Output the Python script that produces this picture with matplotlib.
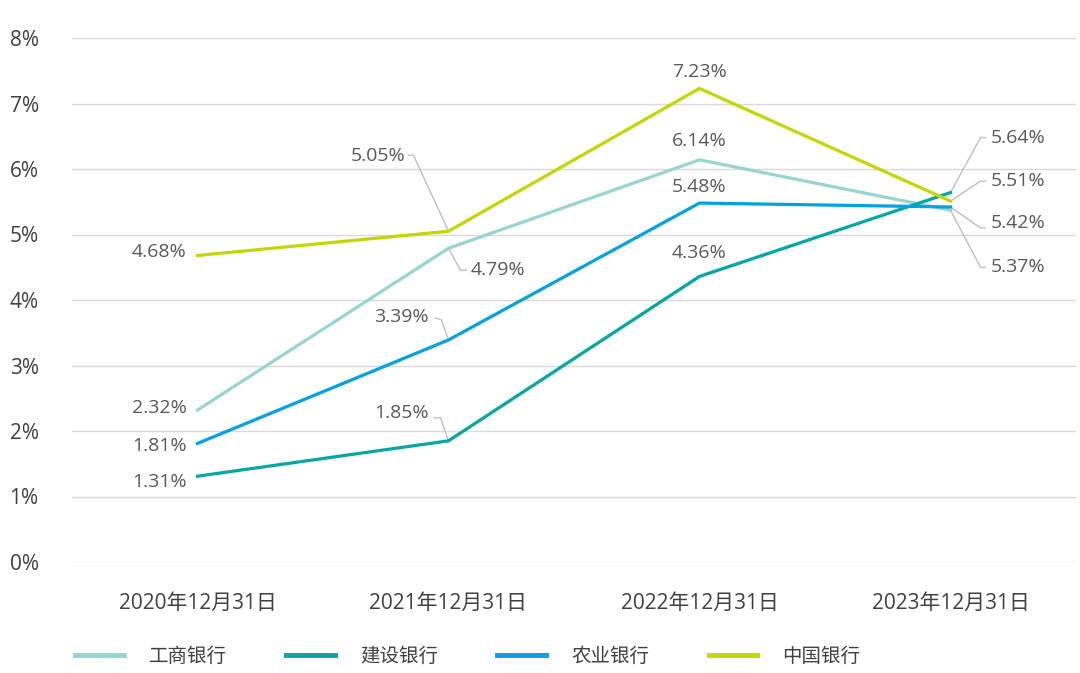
"""
四大行指标走势折线图 (2020-2023)
"""
import matplotlib

matplotlib.use("Agg")
import matplotlib.pyplot as plt
import matplotlib.transforms as mtransforms

plt.rcParams["font.family"] = ["Open Sans", "Noto Sans CJK SC", "DejaVu Sans"]

dates = ["2020年12月31日", "2021年12月31日", "2022年12月31日", "2023年12月31日"]
banks = ["工商银行", "建设银行", "农业银行", "中国银行"]
icbc = [2.32, 4.79, 6.14, 5.37]
ccb = [1.31, 1.85, 4.36, 5.64]
abc = [1.81, 3.39, 5.48, 5.42]
boc = [4.68, 5.05, 7.23, 5.51]
y_ticks = [0, 1, 2, 3, 4, 5, 6, 7, 8]

colors = ["#97d5cf", "#00a8a0", "#00a2e3", "#c4d600"]

# label layout per bank and year, in pixels relative to the point:
# (text dx, text dy, ha, leader vertices or None)
PX = 0.72
layout = [
    [  # 工商银行
        (-11, 2, "right", None),
        (22, -22, "left", [(0, 0), (12, -22), (18, -22)]),
        (0, 19, "center", None),
        (40, -57, "left", [(0, 0), (30, -57), (35, -57)]),
    ],
    [  # 建设银行
        (-11, -6, "right", None),
        (-20, 28, "right", [(-14, 23), (-8, 23), (0, 0)]),
        (0, 23, "center", None),
        (40, 55, "left", [(0, 0), (30, 55), (35, 55)]),
    ],
    [  # 农业银行
        (-11, -3, "right", None),
        (-20, 23, "right", [(-13, 22), (-7, 20), (0, 0)]),
        (0, 16, "center", None),
        (40, -16, "left", [(0, 0), (30, -21), (35, -21)]),
    ],
    [  # 中国银行
        (-11, 3, "right", None),
        (-43, 75, "right", [(-40, 76), (-35, 76), (0, 0)]),
        (0, 16, "center", None),
        (40, 20, "left", [(0, 0), (30, 20), (35, 20)]),
    ],
]

fig = plt.figure(figsize=(10.8, 6.73), dpi=100)
ax = fig.add_axes([72 / 1080, 1 - 562 / 673, (1076 - 72) / 1080, 524 / 673])

x = list(range(len(dates)))
series = [icbc, ccb, abc, boc]
for vals, color, name in zip(series, colors, banks):
    ax.plot(x, vals, color=color, linewidth=2.3, label=name, clip_on=False, zorder=3)

for vals, lays in zip(series, layout):
    for xi, v, (tdx, tdy, ha, leader) in zip(x, vals, lays):
        ax.annotate(
            f"{v:.2f}%",
            xy=(xi, v),
            xytext=(tdx * PX, tdy * PX),
            textcoords="offset points",
            ha=ha,
            va="center",
            fontsize=14,
            color="#595959",
        )
        if leader:
            trans = fig.dpi_scale_trans + mtransforms.ScaledTranslation(xi, v, ax.transData)
            ax.plot(
                [p[0] / 100 for p in leader],
                [p[1] / 100 for p in leader],
                color="#bfbfbf",
                linewidth=1,
                transform=trans,
                clip_on=False,
                zorder=2,
            )

ax.set_xlim(-0.5, 3.5)
ax.set_ylim(0, 8)
ax.set_xticks(x)
ax.set_xticklabels(dates)
ax.set_yticks(y_ticks)
ax.set_yticklabels([f"{t}%" for t in y_ticks])
ax.tick_params(axis="both", length=0, labelsize=15, colors="#404040")
ax.tick_params(axis="x", pad=22)
ax.tick_params(axis="y", pad=24)
ax.grid(axis="y", color="#d9d9d9", linewidth=1)
ax.set_axisbelow(True)
for spine in ax.spines.values():
    spine.set_visible(False)

handles, labels = ax.get_legend_handles_labels()
leg = fig.legend(
    handles,
    labels,
    loc="center left",
    bbox_to_anchor=(75 / 1080, 16 / 673),
    ncol=4,
    frameon=False,
    fontsize=14,
    handlelength=2.5,
    handletextpad=1.3,
    columnspacing=3.05,
    borderpad=0,
    borderaxespad=0,
)
for line in leg.get_lines():
    line.set_linewidth(3.5)
for text in leg.get_texts():
    text.set_color("#404040")

fig.savefig("out.png", dpi=100)
